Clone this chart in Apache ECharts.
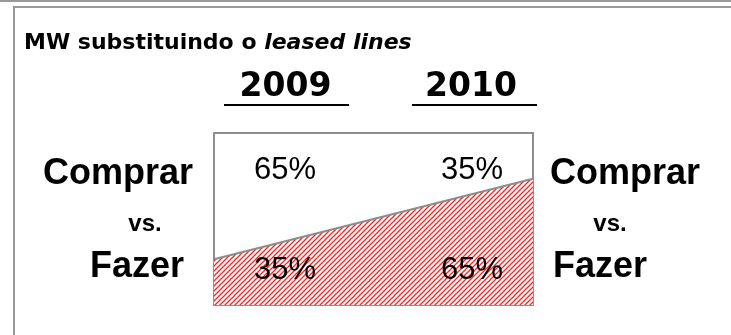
<!DOCTYPE html>
<html><head><meta charset="utf-8">
<script src="https://cdn.jsdelivr.net/npm/echarts@6/dist/echarts.min.js"></script>
<style>html,body{margin:0;padding:0;background:#fff}#c{width:731px;height:335px}</style>
</head><body><div id="c"></div>
<script>
const years = ['2009', '2010'];
const fazerShare = [35, 65];
const comprarShare = [65, 35];
const sideLabels = ['Comprar', 'vs.', 'Fazer'];
const title = 'MW substituindo o ';
const titleItalic = 'leased lines';

// hatch pattern
const T = 5;
const tile = document.createElement('canvas');
tile.width = T; tile.height = T;
const g = tile.getContext('2d');
g.fillStyle = '#ffffff'; g.fillRect(0, 0, T, T);
g.strokeStyle = 'rgb(255,32,32)'; g.lineWidth = 1.3;
g.beginPath();
g.moveTo(-1, T + 1); g.lineTo(T + 1, -1);
g.moveTo(-1, 1); g.lineTo(1, -1);
g.moveTo(T - 1, T + 1); g.lineTo(T + 1, T - 1);
g.stroke();

const chart = echarts.init(document.getElementById('c'), null, {renderer: 'canvas'});
const F = '"Liberation Sans", Arial, sans-serif';
const W = '"DejaVu Sans", sans-serif';
const gl = {left: 214, top: 133, width: 319, height: 172};
function txt(x, y, text, size, weight, fam) {
  return {type: 'text', x: x, y: y, style: {text: text, font: (weight || 'normal') + ' ' + size + 'px ' + (fam || F), fill: '#000', textAlign: 'center', textVerticalAlign: 'middle'}, z: 10};
}
const graphics = [
  {type: 'rect', shape: {x: 0, y: 0, width: 731, height: 2}, style: {fill: '#9a9a9a'}},
  {type: 'rect', shape: {x: 14, y: 7, width: 800, height: 400}, style: {fill: 'none', stroke: '#9a9a9a', lineWidth: 2}},
  {type: 'text', x: 24, y: 43, style: {rich: {n: {font: 'bold 22px ' + W, fill: '#000'}, i: {font: 'italic bold 22px ' + W, fill: '#000'}}, text: '{n|' + title + '}{i|' + titleItalic + '}', textVerticalAlign: 'middle'}},
  txt(285.5, 87, years[0], 33, 'bold', W),
  txt(471, 87, years[1], 33, 'bold', W),
  {type: 'line', shape: {x1: 224, y1: 105, x2: 349, y2: 105}, style: {stroke: '#000', lineWidth: 2}},
  {type: 'line', shape: {x1: 412, y1: 105, x2: 537, y2: 105}, style: {stroke: '#000', lineWidth: 2}},
  txt(285, 170, comprarShare[0] + '%', 31),
  txt(472, 170, comprarShare[1] + '%', 31),
  txt(285, 270, fazerShare[0] + '%', 31),
  txt(472, 270, fazerShare[1] + '%', 31),
  txt(118, 174, sideLabels[0], 36, 'bold'),
  txt(145, 224, sideLabels[1], 24, 'bold'),
  txt(137, 267, sideLabels[2], 36, 'bold'),
  txt(625, 174, sideLabels[0], 36, 'bold'),
  txt(610, 224, sideLabels[1], 24, 'bold'),
  txt(600, 267, sideLabels[2], 36, 'bold')
];
chart.setOption({
  animation: false,
  grid: Object.assign({show: true, borderColor: '#8f8f8f', borderWidth: 2, backgroundColor: '#fff', z: 1}, gl),
  xAxis: {type: 'value', min: 0, max: years.length - 1, show: false},
  yAxis: {type: 'value', min: 18, max: 82, show: false},
  series: [{
    type: 'line',
    data: years.map((y, i) => [i, fazerShare[i]]),
    symbol: 'none',
    lineStyle: {color: '#8c8c8c', width: 2},
    areaStyle: {color: {image: tile, repeat: 'repeat'}, opacity: 1, origin: 'start'},
    z: 3
  }],
  graphic: graphics
});
</script></body></html>
